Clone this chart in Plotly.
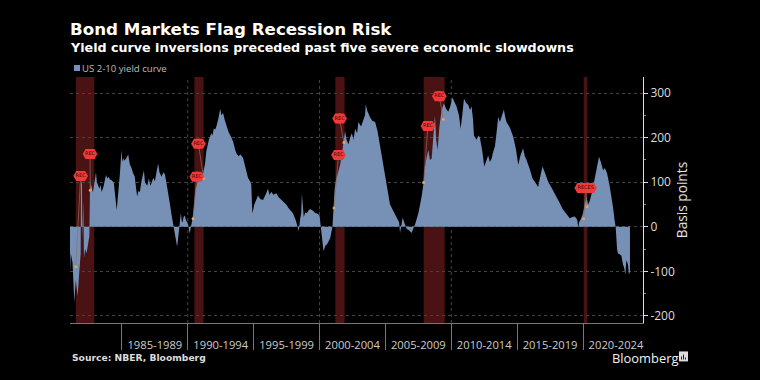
import plotly.graph_objects as go

years = [1981.06,1981.12,1981.25,1981.39,1981.5,1981.64,1981.77,1981.87,1981.89,1981.93,1981.97,1982.0,1982.07,1982.12,1982.22,1982.32,1982.45,1982.53,1982.58,
1982.65,1982.7,1982.76,1982.83,1982.93,1983.03,1983.1,1983.21,1983.3,1983.38,1983.46,1983.6,1983.72,1983.79,1983.9,1984.0,1984.09,1984.25,1984.39,1984.5,1984.6,1984.66,1984.72,1984.85,1984.97,1985.03,1985.1,1985.15,1985.3,1985.48,1985.6,1985.73,1985.85,1985.98,1986.08,1986.16,1986.25,1986.36,1986.5,1986.67,1986.75,1986.92,1987.05,1987.15,1987.25,1987.38,1987.5,1987.62,1987.75,1987.85,1988.01,1988.15,1988.26,1988.4,1988.51,1988.65,1988.76,1988.94,1989.05,1989.19,1989.27,1989.34,1989.42,1989.47,1989.55,1989.6,1989.68,1989.77,1989.87,1989.97,1990.05,1990.15,1990.25,1990.35,1990.45,1990.6,1990.78,1990.95,1991.16,1991.3,1991.41,1991.6,1991.79,1991.88,1991.97,1992.08,1992.17,1992.3,1992.47,1992.55,1992.68,1992.8,1992.93,1993.1,1993.31,1993.45,1993.6,1993.69,1993.85,1994.0,1994.19,1994.35,1994.57,1994.72,1994.82,1994.86,1994.9,1995.05,1995.2,1995.33,1995.5,1995.71,1995.9,1996.09,1996.2,1996.35,1996.5,1996.72,1996.9,1997.1,1997.3,1997.47,1997.7,1997.98,1998.2,1998.36,
1998.42,1998.54,1998.61,1998.66,1998.74,1998.8,1998.84,1998.92,1999.04,1999.15,1999.29,1999.42,1999.55,1999.68,1999.8,2000.0,2000.1,2000.2,2000.3,2000.45,2000.56,2000.7,2000.81,2000.98,2001.06,2001.15,2001.26,2001.4,2001.57,2001.75,2001.94,2002.05,2002.2,2002.32,2002.45,2002.58,2002.7,2002.85,2002.95,2003.15,2003.33,2003.45,2003.51,2003.62,2003.84,2004.0,2004.22,2004.4,2004.6,2004.85,2005.1,2005.35,2005.55,2005.73,2005.9,2006.04,2006.11,2006.2,2006.31,2006.45,2006.62,2006.8,2006.99,2007.12,2007.25,2007.5,2007.75,2007.9,2008.0,2008.12,2008.26,2008.38,2008.51,2008.63,2008.76,2008.85,2008.96,2009.1,2009.27,2009.44,2009.6,2009.77,2009.92,2010.08,2010.25,2010.4,2010.58,2010.71,2010.85,2010.96,2011.12,2011.29,2011.42,2011.54,2011.65,2011.72,2011.92,2012.05,2012.17,2012.35,2012.5,2012.65,2012.8,2012.93,2013.06,2013.18,2013.31,2013.45,2013.56,2013.69,2013.85,2013.99,2014.1,2014.19,2014.45,2014.7,2014.9,2015.08,2015.25,2015.45,2015.58,2015.71,2015.95,2016.16,2016.4,2016.59,2016.75,2016.92,2017.15,2017.35,2017.6,2017.85,2018.05,2018.23,2018.45,2018.69,2018.85,2018.99,2019.2,2019.37,2019.55,2019.65,2019.7,2019.85,2020.0,2020.25,2020.38,2020.5,2020.7,2020.88,2021.05,2021.21,2021.35,2021.52,2021.65,2021.82,2022.0,2022.15,2022.22,2022.27,2022.38,2022.48,2022.58,2022.65,2022.78,2022.91,2023.03,2023.12,2023.21,2023.29,2023.41,2023.48,2023.56]
spread = [-100,-60,-80,-170,-120,-155,-100,-60,105,100,95,-30,60,-70,-50,-60,-40,-20,100,
85,95,78,82,105,122,100,92,85,95,78,90,112,116,108,112,106,104,98,70,38,55,72,120,172,145,155,148,152,162,140,132,120,112,85,68,80,78,105,126,100,92,108,92,98,110,102,120,142,122,112,122,118,95,78,50,28,0,-15,-45,-25,-10,8,30,12,10,22,25,14,10,0,-15,2,15,40,85,105,112,120,140,170,195,210,205,220,218,225,240,265,250,255,240,225,212,200,190,172,165,158,162,155,135,110,102,95,60,30,50,62,70,62,60,72,85,72,78,72,75,66,60,56,50,40,30,14,0,
-10,20,30,75,25,22,25,32,30,36,40,38,35,30,30,25,0,-20,-55,-42,-40,-32,-25,0,60,85,105,120,140,175,215,195,185,200,210,195,220,210,235,225,240,250,275,260,245,238,235,215,180,135,90,50,38,27,20,10,-14,5,20,8,-5,-8,-14,-4,5,30,68,100,135,155,172,150,153,200,250,195,172,225,262,277,265,258,270,290,280,270,250,220,255,288,278,273,262,270,240,205,195,205,200,170,135,150,160,145,153,168,180,215,247,235,250,263,245,235,222,202,175,139,160,176,158,150,130,109,98,89,112,135,118,101,88,75,62,53,40,30,24,19,22,23,16,-3,10,18,30,68,50,57,80,105,130,157,145,127,132,120,95,72,55,45,18,-2,-50,-60,-62,-65,-85,-92,-108,-75,-85,-108,-100]

rec_start = [1981.5,1990.5,2001.2,2007.9,2020.05]
rec_end = [1982.9,1991.2,2001.9,2009.5,2020.33]

flag_x = [1981.87,1982.58,1990.68,1990.81,2001.44,2001.52,2008.23,2009.09,2019.9,2020.2,2020.5]
flag_y = [114,163,112,186,161,243,226,293,87,87,87]
flag_text = ["REC","REC","REC","REC","REC","REC","REC","REC","","RECES",""]
flag_side = [-0.12,0.12]
dot_x = [1981.5,1982.6,1990.4,1991.2,2001.1,2001.85,2007.9,2009.4,2020.05,2020.3]
dot_y = [-90,82,18,108,42,189,99,241,18,45]
stem_flag = [0,1,2,3,4,5,6,7,9,9]

period_labels = ["1985-1989","1990-1994","1995-1999","2000-2004","2005-2009","2010-2014","2015-2019","2020-2024"]
period_mid = [1987.5,1992.5,1997.5,2002.5,2007.5,2012.5,2017.5,2022.5]
decade_lines = [1990,2000,2010]
y_ticks = [300,200,100,0,-100,-200]
y_labels = ["300","200","100","0","-100","-200"]

FONT = "Open Sans"
BOLD = "DejaVu Sans"
AREA = "#7790b5"
fig = go.Figure()

for s, e in zip(rec_start, rec_end):
    fig.add_shape(type="rect", x0=s, x1=e, yref="paper", y0=0, y1=1, layer="below",
                  fillcolor="#4a1212", line_width=0)
for d in decade_lines:
    fig.add_shape(type="line", x0=d, x1=d, yref="paper", y0=0, y1=1, layer="below",
                  line=dict(color="#444444", width=1, dash="dot"))

fig.add_trace(go.Scatter(x=years, y=spread, mode="lines", fill="tozeroy", fillcolor=AREA,
                         line=dict(width=0, color=AREA), name="US 2-10 yield curve", showlegend=False,
                         hoverinfo="skip"))

sx, sy = [], []
for x, y, k in zip(dot_x, dot_y, stem_flag):
    sx += [x, flag_x[k], None]
    sy += [y, flag_y[k], None]
fig.add_trace(go.Scatter(x=sx, y=sy, mode="lines", line=dict(color="#8a7068", width=0.7), showlegend=False, hoverinfo="skip"))
fig.add_trace(go.Scatter(x=dot_x, y=dot_y, mode="markers", marker=dict(color="#d8a868", size=3), showlegend=False, hoverinfo="skip"))
for d in flag_side:
    fig.add_trace(go.Scatter(x=[v+d for v in flag_x], y=flag_y, mode="markers",
                             marker=dict(symbol="hexagon2", color="#f03a3a", size=11.5, line=dict(width=0)),
                             showlegend=False, hoverinfo="skip"))
fig.add_trace(go.Scatter(x=flag_x, y=flag_y, mode="text", text=flag_text, textposition="middle center",
                         textfont=dict(family=BOLD, size=5, color="#3a0808"), showlegend=False, hoverinfo="skip"))

fig.update_xaxes(range=[1981.06,2024.55], tickmode="array", tickvals=period_mid, ticktext=period_labels,
                 ticks="outside", ticklen=12, tickcolor="rgba(0,0,0,0)", tickfont=dict(family=FONT, size=11.2, color="#cccccc"),
                 showgrid=False, zeroline=False, showline=True, linecolor="#777777", linewidth=1,
                 minor=dict(tick0=1985, dtick=5, ticks="outside", ticklen=26, tickcolor="#777777", tickwidth=1, showgrid=False))
fig.update_yaxes(range=[-216,336], side="right", tickmode="array", tickvals=y_ticks, ticktext=y_labels,
                 ticks="outside", ticklen=4, tickcolor="#dddddd", tickfont=dict(family=FONT, size=12, color="#dddddd"),
                 showgrid=True, gridcolor="#444444", griddash="dot", gridwidth=1,
                 zeroline=False,
                 showline=True, linecolor="#dddddd", linewidth=1,
                 minor=dict(tick0=0, dtick=50, ticks="outside", ticklen=2, tickcolor="#888888", showgrid=False),
                 title=dict(text="Basis points", font=dict(family=FONT, size=13.7, color="#e4e4e4"), standoff=3))

anns = [
    dict(x=70, y=28.5, text="<b>Bond Markets Flag Recession Risk</b>", size=16.7, color="#ffffff", family=BOLD),
    dict(x=70, y=47, text="<b>Yield curve inversions preceded past five severe economic slowdowns</b>", size=12.7, color="#ffffff", family=BOLD),
    dict(x=82, y=68, text="US 2-10 yield curve", size=9.6, color="#bbbbbb", family=FONT),
    dict(x=72, y=358, text="<b>Source: NBER, Bloomberg</b>", size=9.2, color="#dddddd", family=BOLD),
    dict(x=612, y=358.5, text="Bloomberg", size=12.9, color="#f2f2f2", family=FONT),
]
for a in anns:
    fig.add_annotation(xref="paper", yref="paper", x=(a["x"]-70)/573, y=(323.5-a["y"])/246.5, text=a["text"],
                       showarrow=False, xanchor="left", yanchor="middle", xshift=-2,
                       font=dict(family=a["family"], size=a["size"], color=a["color"]))

def px(x): return (x-70)/573
def py(y): return (323.5-y)/246.5
fig.add_shape(type="rect", xref="paper", yref="paper", x0=px(74), x1=px(80), y0=py(71), y1=py(65), fillcolor=AREA, line_width=0)
fig.add_shape(type="rect", xref="paper", yref="paper", x0=px(679), x1=px(688), y0=py(362), y1=py(352), fillcolor="#dddddd", line_width=0)
for x0, top in [(681,357),(683,355),(685,358)]:
    fig.add_shape(type="rect", xref="paper", yref="paper", x0=px(x0), x1=px(x0+1), y0=py(360), y1=py(top), fillcolor="#222222", line_width=0)

fig.update_layout(width=760, height=380, autosize=False, paper_bgcolor="#000000", plot_bgcolor="#000000",
                  margin=dict(l=70, r=117, t=77, b=56.5), showlegend=False)
fig.write_html("out.html", config=dict(displayModeBar=False),
               post_script="document.body.style.margin='0';document.body.style.background='#000';")
